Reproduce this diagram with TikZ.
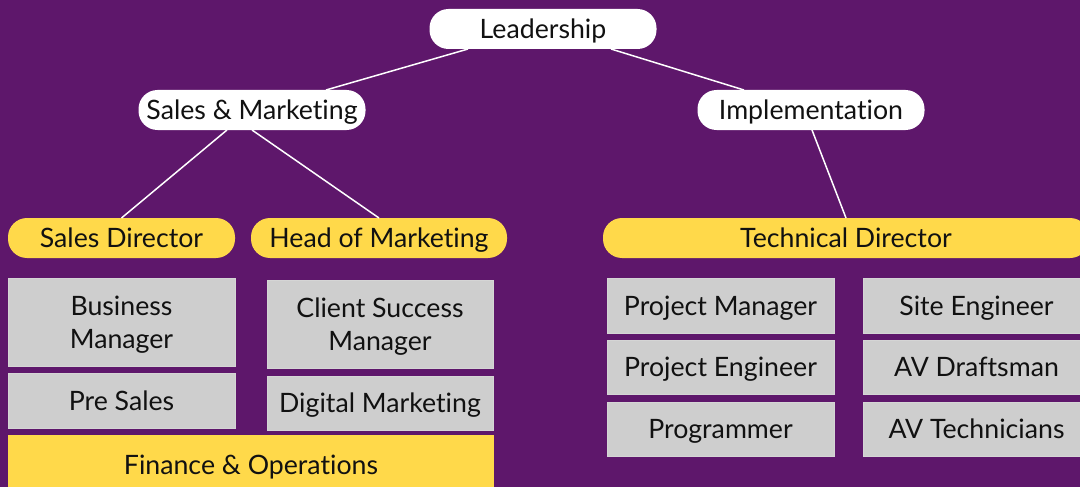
\documentclass[tikz,border=0pt]{standalone}
\usepackage{fontspec}
\setmainfont{Lato}[RawFeature={-liga}]
\definecolor{bgpurple}{RGB}{94,23,107}
\definecolor{boxyellow}{RGB}{255,217,74}
\definecolor{boxgray}{RGB}{206,206,206}
\definecolor{txt}{RGB}{17,17,17}
\begin{document}
\begin{tikzpicture}[x=1pt,y=-1pt,
  every node/.style={inner sep=0pt,outer sep=0pt,text=txt,font=\fontsize{26.7}{33}\selectfont,align=center,text height=19pt,text depth=0pt},
  twoline/.style={text height=52pt,text depth=0pt},
  pillw/.style={fill=white,rounded corners=19pt,minimum height=40pt,minimum width=227pt},
  pilly/.style={fill=boxyellow,rounded corners=19pt,minimum height=40pt},
  grybox/.style={fill=boxgray,draw=boxgray!85!white},
  ylbox/.style={fill=boxyellow},
  link/.style={draw=white,line width=1.5pt}]
\fill[bgpurple] (0,0) rectangle (1080,487);
\useasboundingbox (0,0) rectangle (1080,487);
% top level
\node[pillw] (lead) at (543,29) {Leadership};
\node[pillw] (sm) at (252,110) {Sales \& Marketing};
\node[pillw] (impl) at (811,110) {Implementation};
% directors
\node[pilly,minimum width=227pt] (sd) at (121.5,238) {Sales Director};
\node[pilly,minimum width=256pt] (hom) at (379,238) {Head of Marketing};
\node[pilly,minimum width=486pt] (td) at (846,238) {Technical Director};
% connectors
\draw[link] ([xshift=-75pt]lead.south) -- ([xshift=74pt]sm.north);
\draw[link] ([xshift=68pt]lead.south) -- ([xshift=-67pt]impl.north);
\draw[link] ([xshift=-25pt]sm.south) -- (sd.north);
\draw[link] (sm.south) -- (hom.north);
\draw[link] ([xshift=1pt]impl.south) -- (td.north);
% sales column
\node[grybox,twoline,minimum width=227pt,minimum height=88pt] (bm) at (121.5,322) {Business\\Manager};
\node[grybox,minimum width=227pt,minimum height=55pt] (ps) at (121.5,400.5) {Pre Sales};
% marketing column
\node[grybox,twoline,minimum width=226pt,minimum height=88pt] (csm) at (380,324) {Client Success\\Manager};
\node[grybox,minimum width=226pt,minimum height=54pt] (dm) at (380,403) {Digital Marketing};
% finance
\node[ylbox,minimum width=486pt,minimum height=60pt] (fo) at (251,465) {Finance \& Operations};
% technical columns
\node[grybox,minimum width=227pt,minimum height=55pt] (pm) at (720.5,305.5) {Project Manager};
\node[grybox,minimum width=227pt,minimum height=54pt] (pe) at (720.5,367) {Project Engineer};
\node[grybox,minimum width=227pt,minimum height=54pt] (pr) at (720.5,429) {Programmer};
\node[grybox,minimum width=227pt,minimum height=55pt] (se) at (976.5,305.5) {Site Engineer};
\node[grybox,minimum width=227pt,minimum height=54pt] (avd) at (976.5,367) {AV Draftsman};
\node[grybox,minimum width=227pt,minimum height=54pt] (avt) at (976.5,429) {AV Technicians};
\end{tikzpicture}
\end{document}
